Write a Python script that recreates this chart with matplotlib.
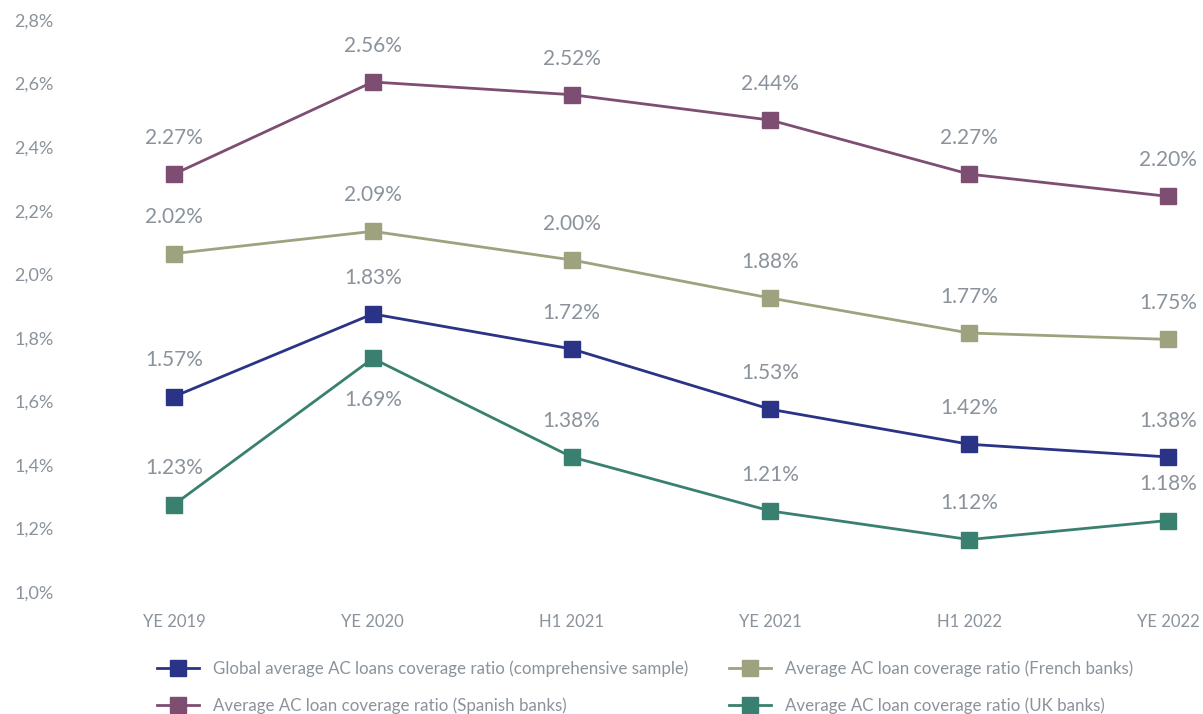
import matplotlib
matplotlib.use('Agg')
import matplotlib.pyplot as plt
import numpy as np

periods = ['YE 2019', 'YE 2020', 'H1 2021', 'YE 2021', 'H1 2022', 'YE 2022']
spanish = [2.27, 2.56, 2.52, 2.44, 2.27, 2.20]
french = [2.02, 2.09, 2.00, 1.88, 1.77, 1.75]
global_avg = [1.57, 1.83, 1.72, 1.53, 1.42, 1.38]
uk = [1.23, 1.69, 1.38, 1.21, 1.12, 1.18]
y_ticks = [1.0, 1.2, 1.4, 1.6, 1.8, 2.0, 2.2, 2.4, 2.6, 2.8]

# the source chart's gridless axis sits ~0.045 below its data points
AXIS_SHIFT = 0.045
TXT = '#8a929b'

plt.rcParams['font.family'] = ['Lato', 'DejaVu Sans']

W, H = 1203, 714
fig = plt.figure(figsize=(W / 100, H / 100), dpi=100)
ax = fig.add_axes([62 / W, 1 - 592 / H, (1195 - 62) / W, (592 - 20) / H])

series = [
    ('Global average AC loans coverage ratio (comprehensive sample)', global_avg, '#2a3385'),
    ('Average AC loan coverage ratio (Spanish banks)', spanish, '#7d4e72'),
    ('Average AC loan coverage ratio (French banks)', french, '#9fa27e'),
    ('Average AC loan coverage ratio (UK banks)', uk, '#3a8070'),
]

x = np.arange(len(periods))
for label, vals, col in series:
    ax.plot(x, vals, color=col, lw=2.0, marker='s', markersize=11.5, label=label)
    for i, v in enumerate(vals):
        below = (vals is uk and i == 1)
        ax.annotate(f'{v:.2f}%', (i, v), xytext=(0, -30 if below else 26),
                    textcoords='offset points', ha='center', va='center',
                    fontsize=15, color=TXT)

px = 198.8
ax.set_xlim((62 - 174) / px, (1195 - 174) / px)
ax.set_ylim(1.0 - AXIS_SHIFT, 2.8 - AXIS_SHIFT)
ax.set_yticks([t - AXIS_SHIFT for t in y_ticks])
ax.set_yticklabels([f'{t:.1f}%'.replace('.', ',') for t in y_ticks])
ax.set_xticks(x)
ax.set_xticklabels(periods)
ax.tick_params(length=0, colors=TXT, labelsize=12)
ax.tick_params(axis='x', pad=16)
ax.tick_params(axis='y', pad=6, labelsize=13)
for s in ax.spines.values():
    s.set_visible(False)

fig.legend(loc='upper left', bbox_to_anchor=(150 / W, 1 - 654 / H), ncol=2,
           frameon=False, fontsize=12.2, labelcolor=TXT, handlelength=2.5,
           columnspacing=2.4, labelspacing=1.2, borderaxespad=0)

fig.savefig('out.png', dpi=100)
